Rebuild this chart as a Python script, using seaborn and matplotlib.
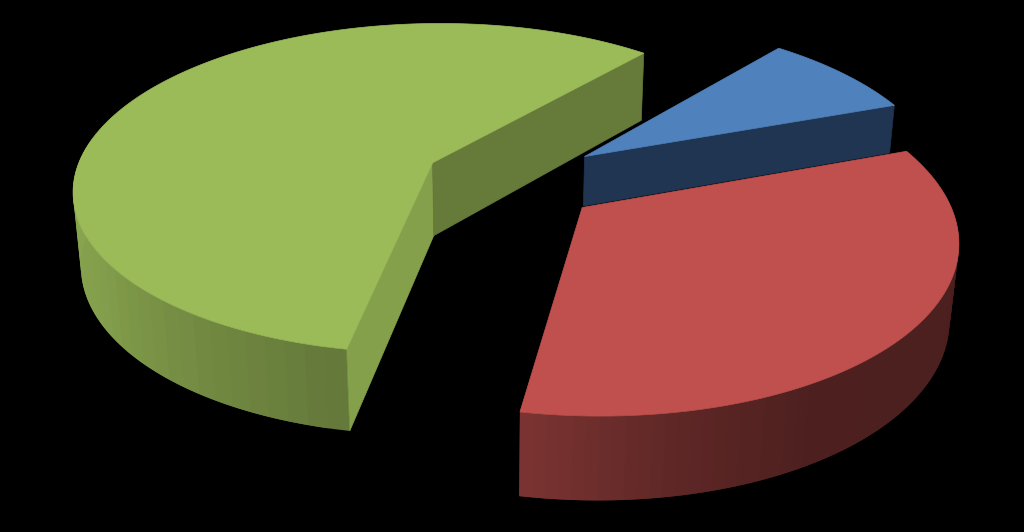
import numpy as np
import matplotlib
matplotlib.use('Agg')
import matplotlib.pyplot as plt
import seaborn as sns
from matplotlib.patches import Polygon

# Slices in drawing order of the pie, clockwise from the start angle
slices = ['blue', 'red', 'green']
shares = [8.27, 33.42, 58.31]

top_colors = {'blue': '#4F81BD', 'red': '#C0504D', 'green': '#9BBB59'}
# exploded offset of every slice and its height, in pie radius units
offset_x = {'blue': 0.273, 'red': 0.2537, 'green': -0.1579}
offset_y = {'blue': 0.0655, 'red': -0.2402, 'green': 0.0264}
height = {'blue': 0.1597, 'red': 0.2352, 'green': 0.2357}

# Camera of the 3D view, fitted to the picture
elev, dist, focal, cx, cy = 0.474, 5.7378, 2038.63, 488.556, 167.05
start_angle = 0.8655

# Brightness of the outer wall against its direction
shade_deg = [-200, -150, -120, -100, -80, -60, 0]
shade_val = [0.90, 0.85, 0.72, 0.64, 0.49, 0.40, 0.39]


def project(x, y, z):
    zc = dist + y * np.cos(elev) - z * np.sin(elev)
    yc = y * np.sin(elev) + z * np.cos(elev)
    return np.column_stack([cx + focal * x / zc, cy - focal * yc / zc])


def rim_point(name, angle):
    return offset_x[name] + np.cos(angle), offset_y[name] + np.sin(angle)


def cut_face(ax, name, angle, color):
    ox, oy = offset_x[name], offset_y[name]
    ex, ey = rim_point(name, angle)
    h = height[name]
    xs = np.array([ox, ex, ex, ox])
    ys = np.array([oy, ey, ey, oy])
    zs = np.array([0, 0, -h, -h])
    ax.add_patch(Polygon(project(xs, ys, zs), closed=True, fc=color, ec=color, lw=0.5))


def draw_wall(ax, name, a_from, a_to):
    # strips overlap the next one, otherwise the antialiased seams show
    steps = np.linspace(a_from, a_to, 70)
    step = steps[1] - steps[0]
    base = np.array(matplotlib.colors.to_rgb(top_colors[name]))
    for a in steps[:-1]:
        mid = a + step / 2
        if np.sin(mid) > 0.1:
            continue
        deg = (np.degrees(mid) + 270) % 360 - 270
        col = tuple(base * np.interp(deg, shade_deg, shade_val))
        arc = np.linspace(a, a + 2 * step if a + 2 * step > a_to else a_to, 4)
        ex, ey = rim_point(name, arc)
        h = height[name]
        xs = np.r_[ex, ex[::-1]]
        ys = np.r_[ey, ey[::-1]]
        zs = np.r_[np.zeros(4), np.full(4, -h)]
        ax.add_patch(Polygon(project(xs, ys, zs), closed=True, fc=col, ec='none'))


def draw_top(ax, name, a_from, a_to):
    arc = np.linspace(a_from, a_to, 300)
    ex, ey = rim_point(name, arc)
    xs = np.r_[offset_x[name], ex]
    ys = np.r_[offset_y[name], ey]
    pts = project(xs, ys, np.zeros(len(xs)))
    ax.add_patch(Polygon(pts, closed=True, fc=top_colors[name], ec=top_colors[name], lw=0.5))


sns.set_theme(style='dark', rc={'figure.facecolor': 'black', 'axes.facecolor': 'black'})

fig = plt.figure(figsize=(10.24, 5.32), dpi=100)
ax = fig.add_axes([0, 0, 1, 1])
ax.set_xlim(0, 1024)
ax.set_ylim(532, 0)
ax.axis('off')

# slice limits from the shares
edges = start_angle - 2 * np.pi * np.cumsum([0] + shares) / 100
limits = {n: (edges[i], edges[i + 1]) for i, n in enumerate(slices)}

# green sits behind, then blue, red is in front of the blue wall
a, b = limits['green']
draw_wall(ax, 'green', a, b)
cut_face(ax, 'green', a, '#84A04B')
cut_face(ax, 'green', b, '#667A39')
draw_top(ax, 'green', a, b)

a, b = limits['blue']
cut_face(ax, 'blue', b, '#1F3552')
draw_top(ax, 'blue', a, b)

a, b = limits['red']
draw_wall(ax, 'red', a, b)
draw_top(ax, 'red', a, b)

fig.savefig('out.png', dpi=100, facecolor='black')
